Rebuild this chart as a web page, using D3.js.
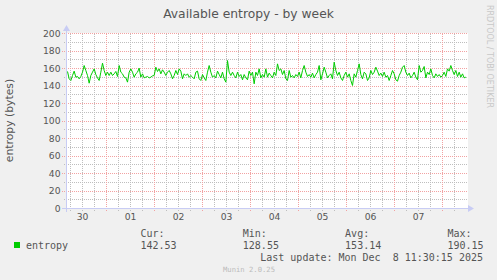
<!DOCTYPE html>
<html><head><meta charset="utf-8">
<script src="https://cdn.jsdelivr.net/npm/d3@7/dist/d3.min.js"></script>
<style>html,body{margin:0;padding:0;background:#F0F0F0;}svg{display:block;}</style>
</head><body>
<script>
// ---- data ----
const title = "Available entropy - by week";
const yLabel = "entropy (bytes)";
const seriesName = "entropy";
const startTime = Date.UTC(2025, 10, 30, 4, 0, 0);   // left edge of graph
const endTime = Date.UTC(2025, 11, 8, 12, 0, 0);     // right edge of graph
const firstSample = Date.UTC(2025, 10, 30, 4, 30, 0);
const sampleStepMin = 50;
const entropy = [
156.6,148.2,146.3,152.0,157.0,150.1,150.9,148.2,150.9,155.8,163.4,157.7,152.0,143.2,152.0,155.8,159.6,153.1,149.3,146.3,
155.8,166.1,157.7,152.0,155.8,152.0,155.8,152.0,153.9,156.6,150.9,163.4,155.8,153.9,150.1,149.3,144.4,155.8,159.6,155.8,
150.1,153.9,155.8,160.4,150.1,153.9,149.3,150.1,150.9,149.3,150.1,151.6,152.0,161.5,156.6,159.6,153.9,158.5,155.8,152.0,
155.8,157.7,153.9,148.2,152.0,157.7,153.1,159.6,157.0,148.2,153.9,152.0,153.9,150.1,152.0,150.1,148.2,155.8,157.0,148.2,
146.3,153.1,149.3,146.3,155.8,163.4,155.8,150.1,152.0,149.3,157.0,153.1,149.3,155.8,148.2,144.4,169.1,155.8,152.0,155.8,
152.0,149.3,155.8,150.9,153.1,147.1,153.1,149.3,147.1,157.0,
152.0,155.8,142.5,155.8,152.0,159.6,149.3,153.1,150.1,159.6,150.1,154.7,152.0,149.3,155.8,152.0,165.3,157.7,159.6,153.1,
157.7,148.2,146.3,157.7,150.1,152.0,149.3,153.1,150.9,155.8,149.3,157.7,163.4,155.8,150.9,153.1,150.1,154.7,149.3,153.1,
155.8,163.4,147.1,153.9,161.5,155.8,149.3,152.0,153.9,148.2,167.2,157.7,152.0,155.8,149.3,146.3,152.0,155.8,150.1,153.9,
146.3,140.6,153.9,150.1,157.7,165.3,153.1,148.2,155.8,153.9,146.3,149.3,157.7,153.1,155.8,161.5,157.0,152.0,154.7,150.9,
155.8,150.1,152.0,146.3,152.0,157.7,153.9,147.1,145.5,152.0,155.8,161.5,163.4,155.8,152.0,154.7,149.3,152.0,155.8,150.1,
147.1,163.4,155.8,157.7,162.3,149.3,155.8,153.1,159.6,152.0,149.3,153.9,150.9,153.1,150.1,152.0,155.8,150.9,159.6,157.0,
163.4,157.7,153.1,157.7,150.9,155.8,150.1,153.9,149.3,150.1
];
const yMajorTicks = [0, 20, 40, 60, 80, 100, 120, 140, 160, 180, 200];
const yMinorTicks = [10, 30, 50, 70, 90, 110, 130, 150, 170, 190];
const legendHeads = ["Cur:", "Min:", "Avg:", "Max:"];
const legendValues = ["142.53", "128.55", "153.14", "190.15"];
const lastUpdate = "Last update: Mon Dec  8 11:30:15 2025";
const footer = "Munin 2.0.25";
const sideText = "RRDTOOL / TOBI OETIKER";

// ---- chart ----
const W = 497, H = 280;
const svg = d3.select("body").append("svg").attr("width", W).attr("height", H);
svg.append("rect").attr("width", W).attr("height", H).attr("fill", "#F0F0F0");

const defs = svg.append("defs");
function dotPattern(id, w, h, col) {
  const p = defs.append("pattern").attr("id", id).attr("patternUnits", "userSpaceOnUse")
    .attr("width", w).attr("height", h);
  p.append("rect").attr("width", 1).attr("height", 1).attr("fill", col);
}
const redCol = "#F2A2A2", grayCol = "#BEBEBE";
dotPattern("vRed", 1, 2, redCol);
dotPattern("hRed", 2, 1, redCol);
dotPattern("vGray", 1, 2, grayCol);
dotPattern("hGray", 2, 1, grayCol);

const x = d3.scaleUtc().domain([startTime, endTime]).range([66.5, 466.5]);
const y = d3.scaleLinear().domain([0, 200]).range([208.5, 33.5]);
const col = v => Math.round(x(v) - 0.5);   // pixel column
const row = v => Math.round(y(v) - 0.5);   // pixel row

svg.append("rect").attr("x", 67).attr("y", 33).attr("width", 401).attr("height", 175).attr("fill", "#FFFFFF");

const g = svg.append("g").attr("shape-rendering", "crispEdges");

const sixH = d3.utcHour.every(6).range(new Date(startTime), new Date(endTime)).filter(d => d.getUTCHours() !== 0);
const days = d3.utcDay.range(new Date(startTime), new Date(endTime));

g.selectAll("rect.vmin").data(sixH).enter().append("rect").attr("class", "vmin")
  .attr("x", d => col(d)).attr("y", 33).attr("width", 1).attr("height", 178).attr("fill", "url(#vGray)");
g.selectAll("rect.hmin").data(yMinorTicks).enter().append("rect").attr("class", "hmin")
  .attr("x", 63).attr("y", d => row(d)).attr("width", 405).attr("height", 1).attr("fill", "url(#hGray)");
g.selectAll("rect.vmaj").data(days).enter().append("rect").attr("class", "vmaj")
  .attr("x", d => col(d)).attr("y", 33).attr("width", 1).attr("height", 179).attr("fill", "url(#vRed)");
g.selectAll("rect.hmaj").data(yMajorTicks.filter(d => d > 0)).enter().append("rect").attr("class", "hmaj")
  .attr("x", 62).attr("y", d => row(d)).attr("width", 406).attr("height", 1).attr("fill", "url(#hRed)");

// axes
const axisCol = "#C8CCF4";
const y0 = row(0) + 0.5, x0 = col(startTime) + 0.5;
g.append("line").attr("x1", 62).attr("x2", 469).attr("y1", y0).attr("y2", y0).attr("stroke", axisCol);
g.append("line").attr("x1", x0).attr("x2", x0).attr("y1", 212).attr("y2", 29).attr("stroke", axisCol);
svg.append("path").attr("d", `M468,${y0-3.5} L474,${y0} L468,${y0+3.5} Z`).attr("fill", axisCol);
svg.append("path").attr("d", `M${x0-3.5},31 L${x0},25 L${x0+3.5},31 Z`).attr("fill", axisCol);

// data line
const times = entropy.map((v, i) => firstSample + i * sampleStepMin * 60000);
const line = d3.line().x((d, i) => x(times[i])).y(d => y(d));
svg.append("path").datum(entropy).attr("d", line).attr("fill", "none")
  .attr("stroke", "#00CC00").attr("stroke-width", 1);

const textCol = "#555555";
const sans = "DejaVu Sans";
const mono = "DejaVu Sans Mono";

// y tick labels
svg.selectAll("text.yl").data(yMajorTicks).enter().append("text").attr("class", "yl")
  .attr("x", 60.5).attr("y", d => y(d) + 3.4).attr("text-anchor", "end")
  .attr("font-family", sans).attr("font-size", 9.2).attr("fill", textCol).text(d => d);

// x tick labels at noon
const noons = days.map(d => new Date(+d - 12 * 3600000))
  .filter(d => x(d) > 70 && x(d) < 460);
svg.selectAll("text.xl").data(noons).enter().append("text").attr("class", "xl")
  .attr("x", d => x(d)).attr("y", 220).attr("text-anchor", "middle")
  .attr("font-family", sans).attr("font-size", 9.2).attr("fill", textCol).text(d => d3.utcFormat("%d")(d));

// title
svg.append("text").attr("x", 248.5).attr("y", 18.3).attr("text-anchor", "middle")
  .attr("font-family", sans).attr("font-size", 12.3).attr("fill", textCol).text(title);
// y label
svg.append("text").attr("transform", "translate(13,120.5) rotate(-90)").attr("text-anchor", "middle")
  .attr("font-family", sans).attr("font-size", 10.8).attr("fill", textCol).text(yLabel);
// side text
svg.append("text").attr("transform", "translate(486.5,5) rotate(90)").attr("text-anchor", "start")
  .attr("font-family", sans).attr("font-size", 8).attr("fill", "#C8C8C8").text(sideText);

// legend
svg.append("rect").attr("x", 14).attr("y", 242).attr("width", 6).attr("height", 6).attr("fill", "#00CC00");
svg.append("text").attr("x", 26).attr("y", 249).attr("font-family", mono).attr("font-size", 10)
  .attr("fill", textCol).text(seriesName);
legendHeads.forEach((h, i) => {
  svg.append("text").attr("x", 140.5 + i * 102.3).attr("y", 237).attr("font-family", mono)
    .attr("font-size", 10).attr("fill", textCol).text(h);
  svg.append("text").attr("x", 140.5 + i * 102.3).attr("y", 249).attr("font-family", mono)
    .attr("font-size", 10).attr("fill", textCol).text(legendValues[i]);
});
svg.append("text").attr("x", 483).attr("y", 261).attr("text-anchor", "end").attr("font-family", mono)
  .attr("font-size", 10).attr("fill", textCol).style("white-space", "pre").text(lastUpdate);
svg.append("text").attr("x", 249).attr("y", 272).attr("text-anchor", "middle").attr("font-family", mono)
  .attr("font-size", 7.2).attr("fill", "#BBBBBB").text(footer);
</script>
</body></html>
